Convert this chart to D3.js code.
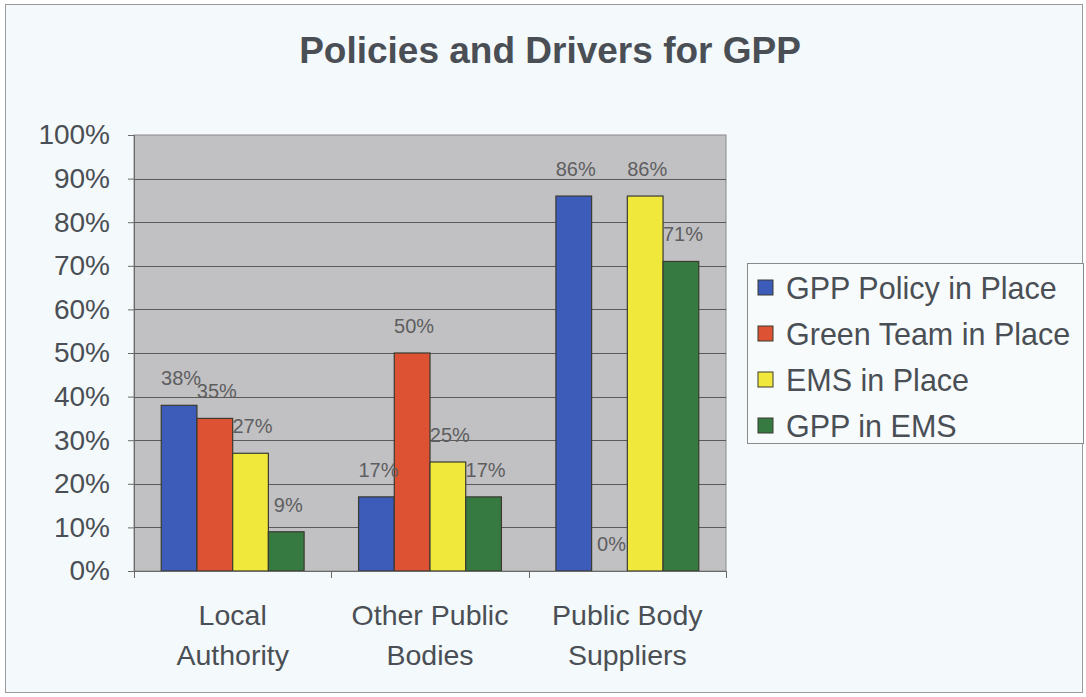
<!DOCTYPE html>
<html>
<head>
<meta charset="utf-8">
<script src="https://cdn.jsdelivr.net/npm/d3@7"></script>
<style>
  html, body { margin: 0; padding: 0; background: #ffffff; }
  svg { display: block; font-family: "Liberation Sans", Arial, sans-serif; }
</style>
</head>
<body>
<svg id="chart" width="1086" height="697"></svg>
<script>
// Chart data
const categories = [["Local", "Authority"], ["Other Public", "Bodies"], ["Public Body", "Suppliers"]];
const seriesNames = ["GPP Policy in Place", "Green Team in Place", "EMS in Place", "GPP in EMS"];
const seriesColors = ["#3d5bb9", "#dc5233", "#f1e83c", "#367a42"];
const gppPolicy  = [0.38, 0.17, 0.86];
const greenTeam  = [0.35, 0.50, 0.00];
const emsInPlace = [0.27, 0.25, 0.86];
const gppInEms   = [0.09, 0.17, 0.71];
const seriesValues = [gppPolicy, greenTeam, emsInPlace, gppInEms];
const yTicks = [0, 0.1, 0.2, 0.3, 0.4, 0.5, 0.6, 0.7, 0.8, 0.9, 1.0];

const svg = d3.select("#chart");

// Outer frame
svg.append("rect")
  .attr("x", 5.5).attr("y", 4.5).attr("width", 1077).attr("height", 688)
  .attr("fill", "#f4f9fb").attr("stroke", "#9a9a9a").attr("stroke-width", 1);

// Title
svg.append("text")
  .attr("x", 550).attr("y", 63)
  .attr("text-anchor", "middle")
  .attr("font-size", 37).attr("font-weight", "bold")
  .attr("fill", "#4a4f55")
  .text("Policies and Drivers for GPP");

// Plot area
const plot = { left: 134, right: 726, top: 135, bottom: 571 };

const x0 = d3.scaleBand()
  .domain(d3.range(categories.length))
  .range([plot.left, plot.right])
  .paddingInner(0).paddingOuter(0);

const bw = x0.bandwidth();
const gap = bw * 0.138;
const x1 = d3.scaleBand()
  .domain(d3.range(seriesNames.length))
  .range([gap, bw - gap])
  .padding(0);

const y = d3.scaleLinear().domain([0, 1]).range([plot.bottom, plot.top]);

svg.append("rect")
  .attr("x", plot.left).attr("y", plot.top)
  .attr("width", plot.right - plot.left).attr("height", plot.bottom - plot.top)
  .attr("fill", "#c1c1c3").attr("stroke", "#8a8a8a").attr("stroke-width", 1);

// Gridlines
svg.append("g")
  .selectAll("line")
  .data(yTicks.filter(t => t > 0 && t < 1))
  .join("line")
  .attr("x1", plot.left).attr("x2", plot.right)
  .attr("y1", d => Math.round(y(d)) + 0.5).attr("y2", d => Math.round(y(d)) + 0.5)
  .attr("stroke", "#5a5a5a").attr("stroke-width", 1);

// Y axis
const yAxis = d3.axisLeft(y)
  .tickValues(yTicks)
  .tickFormat(d => Math.round(d * 100) + "%")
  .tickSize(6)
  .tickPadding(18);
const gy = svg.append("g")
  .attr("transform", `translate(${plot.left},0)`)
  .call(yAxis);
gy.select(".domain").attr("stroke", "#6a6a6a");
gy.selectAll(".tick line").attr("stroke", "#6a6a6a");
gy.selectAll(".tick text")
  .attr("font-size", 28).attr("fill", "#4a4f55")
  .attr("font-family", "'Liberation Sans', Arial, sans-serif");

// Bars
const groups = svg.append("g")
  .selectAll("g")
  .data(categories.map((c, i) => i))
  .join("g")
  .attr("transform", i => `translate(${x0(i)},0)`);

groups.selectAll("rect")
  .data(i => seriesValues.map((vals, s) => ({ s, v: vals[i] })))
  .join("rect")
  .attr("x", d => x1(d.s))
  .attr("y", d => y(d.v))
  .attr("width", x1.bandwidth())
  .attr("height", d => y(0) - y(d.v))
  .attr("fill", d => seriesColors[d.s])
  .attr("stroke", "#3a3a30").attr("stroke-width", 1.2);

// Data labels
groups.selectAll("text")
  .data(i => seriesValues.map((vals, s) => ({ s, v: vals[i] })))
  .join("text")
  .attr("x", d => x1(d.s) + x1.bandwidth() / 2 + 2)
  .attr("y", d => y(d.v) - 20)
  .attr("text-anchor", "middle")
  .attr("font-size", 20)
  .attr("fill", "#5e5e60")
  .text(d => Math.round(d.v * 100) + "%");

// X axis line and category ticks
svg.append("line")
  .attr("x1", plot.left).attr("x2", plot.right)
  .attr("y1", plot.bottom + 0.5).attr("y2", plot.bottom + 0.5)
  .attr("stroke", "#6a6a6a");
svg.append("g")
  .selectAll("line")
  .data(d3.range(categories.length + 1))
  .join("line")
  .attr("x1", i => Math.round(plot.left + i * bw) + 0.5)
  .attr("x2", i => Math.round(plot.left + i * bw) + 0.5)
  .attr("y1", plot.bottom).attr("y2", plot.bottom + 7)
  .attr("stroke", "#6a6a6a");

// Category labels
const catLabels = svg.append("g")
  .selectAll("text")
  .data(categories.map((c, i) => ({ c, i })))
  .join("text")
  .attr("x", d => x0(d.i) + bw / 2)
  .attr("y", 625)
  .attr("text-anchor", "middle")
  .attr("font-size", 28.5)
  .attr("fill", "#4a4f55");
catLabels.selectAll("tspan")
  .data(d => d.c.map(line => ({ line, x: x0(d.i) + bw / 2 })))
  .join("tspan")
  .attr("x", d => d.x)
  .attr("dy", (d, k) => k === 0 ? 0 : 40)
  .text(d => d.line);

// Legend
const legend = svg.append("g");
legend.append("rect")
  .attr("x", 747.5).attr("y", 263.5).attr("width", 336).attr("height", 180)
  .attr("fill", "#f7fbfc").attr("stroke", "#8a8a8a");
const items = legend.selectAll("g")
  .data(seriesNames.map((n, s) => ({ n, s })))
  .join("g")
  .attr("transform", d => `translate(0,${288 + d.s * 46})`);
items.append("rect")
  .attr("x", 758).attr("y", -8).attr("width", 15).attr("height", 15)
  .attr("fill", d => seriesColors[d.s])
  .attr("stroke", "#3a3a30").attr("stroke-width", 1);
items.append("text")
  .attr("x", 786).attr("y", 11)
  .attr("font-size", 30.5)
  .attr("fill", "#4a4f55")
  .text(d => d.n);
</script>
</body>
</html>
